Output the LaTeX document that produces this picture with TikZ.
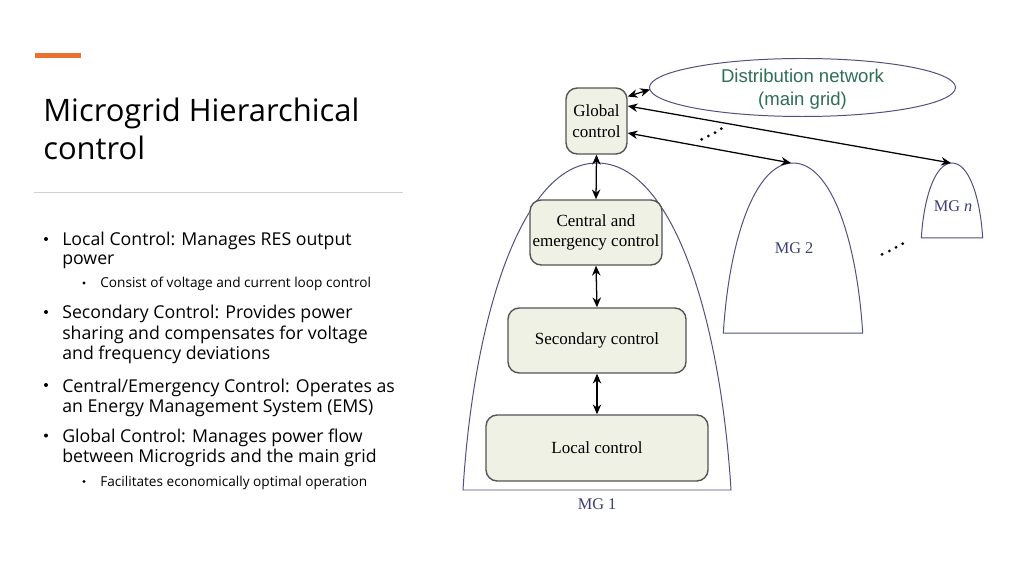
\documentclass[tikz,border=0pt]{standalone}
\usepackage{fontspec}
\setmainfont{Liberation Serif}
\newfontfamily\slidefont{Open Sans}
\newfontfamily\helv{Liberation Sans}
\usetikzlibrary{arrows.meta,shapes.geometric}
\definecolor{orangebar}{HTML}{E97132}
\definecolor{rulegray}{HTML}{D0D0D0}
\definecolor{boxfill}{HTML}{EEF1E4}
\definecolor{boxline}{HTML}{555555}
\definecolor{archline}{HTML}{4F4F80}
\definecolor{mglabel}{HTML}{3C3F72}
\definecolor{gridtext}{HTML}{2F6E55}
\tikzset{
  ctrlbox/.style={draw=boxline, fill=boxfill, line width=1pt, rounded corners=8pt, align=center, font=\fontsize{12.1}{14.8}\selectfont, inner sep=0pt},
  link/.style={line width=0.9pt, {Stealth[length=7pt,width=6pt]}-{Stealth[length=7pt,width=6pt]}},
  arch/.style={draw=archline, line width=0.7pt},
  mglab/.style={text=mglabel, font=\fontsize{11.6}{13}\selectfont},
  titletext/.style={anchor=base west, inner sep=0pt, font=\slidefont\fontsize{22}{26}\selectfont},
  bul/.style={anchor=base west, inner sep=0pt, font=\slidefont\fontsize{12.6}{14}\selectfont},
  subbul/.style={anchor=base west, inner sep=0pt, font=\slidefont\fontsize{9.7}{11}\selectfont},
  dot/.style={fill=black, circle, inner sep=0pt, minimum size=2.2pt},
}
\newcommand{\archpath}{(-134,327) .. controls (-123,150) and (-74,0) .. (0,0) .. controls (74,0) and (123,150) .. (134,327) -- cycle}
\begin{document}
\begin{tikzpicture}[x=0.025cm, y=-0.025cm]
\useasboundingbox (0,0) rectangle (1024,576);
\fill[white] (0,0) rectangle (1024,576);

% left side
\fill[orangebar] (34.5,53) rectangle (80.5,58);
\node[titletext] (t1) at (43,121.5) {Microgrid Hierarchical};
\node[titletext] (t2) at (43,160) {control};
\draw[rulegray, line width=0.7pt] (34,192.3) -- (403,192.3);

\node[bul] (b1a) at (62,246) {Local Control: Manages RES output};
\node[bul] (b1b) at (62,264.5) {power};
\node[subbul] (s1) at (100,288) {Consist of voltage and current loop control};
\node[bul] (b2a) at (62,319) {Secondary Control: Provides power};
\node[bul] (b2b) at (62,339.5) {sharing and compensates for voltage};
\node[bul] (b2c) at (62,359.5) {and frequency deviations};
\node[bul] (b3a) at (62,392) {Central/Emergency Control: Operates as};
\node[bul] (b3b) at (62,412.5) {an Energy Management System (EMS)};
\node[bul] (b4a) at (62,442.5) {Global Control: Manages power flow};
\node[bul] (b4b) at (62,462.5) {between Microgrids and the main grid};
\node[subbul] (s2) at (100,486.5) {Facilitates economically optimal operation};
\foreach \yy in {239,312,385,435.5} \fill (46,\yy) circle (2);
\foreach \yy in {283,481.5} \fill (84,\yy) circle (1.6);

% arches
\begin{scope}[shift={(597,163)}]
  \draw[arch] \archpath;
\end{scope}
\begin{scope}[shift={(793,163)}, scale=0.52]
  \draw[arch] \archpath;
\end{scope}
\begin{scope}[shift={(952,163)}, scale=0.229]
  \draw[arch] \archpath;
\end{scope}
\coordinate (mg2top) at (791,163);
\coordinate (mgntop) at (951,163);
\node[mglab] (mg1) at (597,504) {MG 1};
\node[mglab] (mg2) at (794,248) {MG 2};
\node[mglab] (mgn) at (953,206.5) {MG \textit{n}};

% distribution network
\draw[archline, line width=0.7pt] (802.5,87.5) ellipse [x radius=153, y radius=29];
\coordinate (dn) at (650,89.5);
\node[text=gridtext, align=center, font=\helv\fontsize{13.2}{16.2}\selectfont] (dntext) at (802.5,89) {Distribution network\\(main grid)};

% control boxes
\node[ctrlbox, minimum width=61*0.7113pt, minimum height=66*0.7113pt] (glob) at (596.5,121) {Global\\control};
\node[ctrlbox, minimum width=132*0.7113pt, minimum height=65*0.7113pt] (cen) at (596,232.5) {Central and\\emergency control};
\node[ctrlbox, minimum width=178*0.7113pt, minimum height=65*0.7113pt] (sec) at (597,340.5) {Secondary control};
\node[ctrlbox, minimum width=222*0.7113pt, minimum height=66*0.7113pt] (loc) at (597,448) {Local control};

% links
\draw[link] (glob.south) -- (cen.north);
\draw[link] (cen.south) -- (sec.north);
\draw[link] (sec.south) -- (loc.north);
\draw[link] (glob.east |- 0,96.5) -- (dn);
\draw[link] (glob.east |- 0,106) -- (mgntop);
\draw[link] (glob.east |- 0,133) -- (mg2top);

% dots
\foreach \xx/\yy in {701.7/139.3, 708.3/136, 715/132.7, 721.3/128.7} \node[dot] at (\xx,\yy) {};
\foreach \xx/\yy in {882/254.3, 889.3/251, 896/247.3, 902.7/243.7} \node[dot] at (\xx,\yy) {};
\end{tikzpicture}
\end{document}
